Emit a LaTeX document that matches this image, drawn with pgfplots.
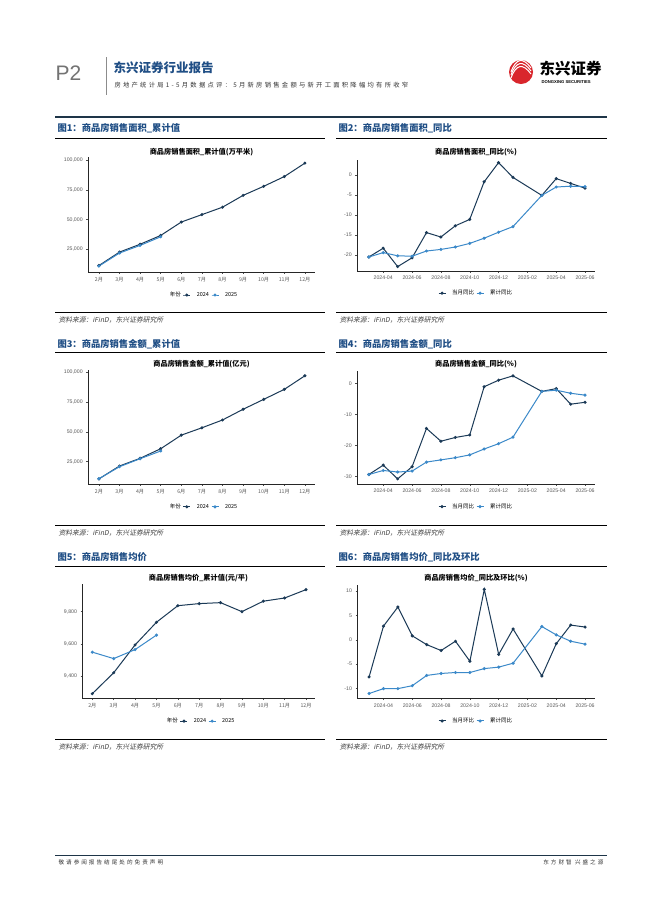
\documentclass[border=0pt]{standalone}
\usepackage{fontspec}
\setmainfont{Noto Sans CJK SC}
\newfontfamily\lat{Liberation Sans}
\newfontfamily\cjkit{Noto Sans CJK SC}[FakeSlant=0.2]
\newfontfamily\cjksp{Noto Sans CJK SC}[LetterSpace=36]
\usepackage{pgfplots}
\pgfplotsset{compat=1.18}

\definecolor{navy}{HTML}{1B3A57}
\definecolor{sky}{HTML}{3B89C9}
\definecolor{ttl}{HTML}{1F4E85}
\definecolor{rule}{HTML}{1E3548}
\definecolor{tickc}{HTML}{5A5A5A}
\definecolor{logored}{HTML}{D9262C}

\pgfplotsset{
  panel/.style={
    scale only axis, anchor=south west, clip=false,
    axis lines=left, axis line style={-, line width=0.8pt, black!85},
    tick align=outside, major tick length=1.8pt,
    every tick/.style={line width=0.45pt, black!70},
    ticklabel style={font=\lat\fontsize{5.2}{6}\selectfont, text=tickc},
    scaled y ticks=false, scaled x ticks=false,
    legend style={draw=none, fill=none, at={(0.5,-0.2)}, anchor=center,
      legend columns=-1, font=\fontsize{5.5}{6}\selectfont,
      /tikz/every odd column/.style={column sep=4pt}},
    legend image code/.code={\draw[mark repeat=2, mark phase=2, ##1]
      plot coordinates {(0pt,0pt) (3.5pt,0pt) (7pt,0pt)};},
  },
  months/.style={xmin=1.47, xmax=12.49, xtick={2,...,12},
    xticklabels={2月,3月,4月,5月,6月,7月,8月,9月,10月,11月,12月},
    xticklabel style={font=\fontsize{5.2}{6}\selectfont}},
  dates/.style={xmin=2.18, xmax=18.69, xtick={4,6,...,18},
    xticklabels={2024-04,2024-06,2024-08,2024-10,2024-12,2025-02,2025-04,2025-06}},
  big/.style={ytick={25000,50000,75000,100000},
    yticklabels={{25,000},{50,000},{75,000},{100,000}}},
  s1/.style={navy, line width=1pt, mark=*, mark size=1pt},
  s2/.style={sky, line width=1pt, mark=*, mark size=1pt},
}

\begin{document}
\begin{tikzpicture}
\useasboundingbox (0pt,0pt) rectangle (662pt,-898pt);
\fill[white] (0pt,0pt) rectangle (662pt,-898pt);

% header
\node[anchor=west, font=\lat\fontsize{21}{22}\selectfont, text=black!55] at (52pt,-73pt) {P2};
\draw[black!45, line width=0.5pt] (106pt,-57pt) -- (106pt,-95pt);
\node[anchor=west, font=\bfseries\fontsize{12.5}{13}\selectfont, text=ttl] at (110pt,-68pt) {东兴证券行业报告};
\node[anchor=west, font=\cjksp\fontsize{6.3}{7}\selectfont, text=black!80] at (111pt,-85pt) {房地产统计局1-5月数据点评：5月新房销售金额与新开工面积降幅均有所收窄};
\fill[logored] (521pt,-72pt) circle (12pt);
\foreach \d in {0,3,6} {
  \draw[white, line width=1pt] (511pt,-78pt+\d pt) .. controls (516pt,-64pt+\d pt) and (523pt,-63pt+\d pt) .. (531pt,-74pt+\d pt);
}
\node[anchor=west, font=\bfseries\fontsize{15.5}{16}\selectfont] at (536pt,-69pt) {东兴证券};
\node[anchor=west, font=\lat\bfseries\fontsize{4.2}{5}\selectfont] at (538pt,-82.5pt) {DONGXING SECURITIES};
\draw[rule, line width=2pt] (55pt,-117pt) -- (607pt,-117pt);

% section titles and rules
\foreach \y/\a/\b in {128/图1：商品房销售面积\_累计值/图2：商品房销售面积\_同比,
                      344/图3：商品房销售金额\_累计值/图4：商品房销售金额\_同比,
                      557/图5：商品房销售均价/图6：商品房销售均价\_同比及环比} {
  \node[anchor=west, font=\bfseries\fontsize{9.3}{10}\selectfont, text=ttl] at (54pt,-\y pt) {\a};
  \node[anchor=west, font=\bfseries\fontsize{9.3}{10}\selectfont, text=ttl] at (335pt,-\y pt) {\b};
}
\foreach \y in {138,352,566} {
  \draw[black, line width=0.9pt] (55pt,-\y pt) -- (325pt,-\y pt);
  \draw[black, line width=0.9pt] (336pt,-\y pt) -- (607pt,-\y pt);
}
\foreach \y/\t in {312/320,525/533,739/747} {
  \draw[black, line width=0.9pt] (55pt,-\y pt) -- (325pt,-\y pt);
  \draw[black, line width=0.9pt] (336pt,-\y pt) -- (607pt,-\y pt);
  \node[anchor=west, font=\cjkit\fontsize{6.8}{7}\selectfont, text=black!75] at (55pt,-\t pt) {资料来源：iFinD，东兴证券研究所};
  \node[anchor=west, font=\cjkit\fontsize{6.8}{7}\selectfont, text=black!75] at (336pt,-\t pt) {资料来源：iFinD，东兴证券研究所};
}

% chart titles
\node[font=\bfseries\fontsize{7.2}{8}\selectfont] at (201.5pt,-152pt) {商品房销售面积\_累计值(万平米)};
\node[font=\bfseries\fontsize{7.2}{8}\selectfont] at (476pt,-152pt) {商品房销售面积\_同比(\%)};
\node[font=\bfseries\fontsize{7.2}{8}\selectfont] at (201.5pt,-364pt) {商品房销售金额\_累计值(亿元)};
\node[font=\bfseries\fontsize{7.2}{8}\selectfont] at (476pt,-364pt) {商品房销售金额\_同比(\%)};
\node[font=\bfseries\fontsize{7.2}{8}\selectfont] at (198.5pt,-578pt) {商品房销售均价\_累计值(元/平)};
\node[font=\bfseries\fontsize{7.2}{8}\selectfont] at (476pt,-578pt) {商品房销售均价\_同比及环比(\%)};

% chart 1
\begin{axis}[panel, months, big, at={(88pt,-272pt)}, width=227pt, height=115pt,
  ymin=5936, ymax=102520]
\addlegendimage{empty legend}\addlegendentry{年份}
\addplot[s1] coordinates {(2,11369)(3,22668)(4,29252)(5,36642)(6,47916)(7,54139)(8,60369)(9,70284)(10,77930)(11,86080)(12,97385)};
\addlegendentry{2024}
\addplot[s2] coordinates {(2,10881)(3,21869)(4,28262)(5,35515)};
\addlegendentry{2025}
\end{axis}

% chart 2
\begin{axis}[panel, dates, at={(357pt,-271pt)}, width=238pt, height=111pt,
  ymin=-24, ymax=3.75, ytick={-20,-15,-10,-5,0}, yticklabels={-20,-15,-10,-5,0}]
\addplot[s1] coordinates {(3,-20.5)(4,-18.3)(5,-22.9)(6,-20.7)(7,-14.4)(8,-15.5)(9,-12.7)(10,-11.1)(11,-1.7)(12,3.1)(13,-0.6)(15,-5.1)(16,-0.9)(17,-2.1)(18,-3.3)};
\addlegendentry{当月同比}
\addplot[s2] coordinates {(3,-20.5)(4,-19.4)(5,-20.2)(6,-20.3)(7,-19.0)(8,-18.6)(9,-18.0)(10,-17.1)(11,-15.8)(12,-14.3)(13,-12.9)(15,-5.1)(16,-3.0)(17,-2.8)(18,-2.9)};
\addlegendentry{累计同比}
\end{axis}

% chart 3
\begin{axis}[panel, months, big, at={(88pt,-484pt)}, width=227pt, height=114pt,
  ymin=6292, ymax=101930]
\addlegendimage{empty legend}\addlegendentry{年份}
\addplot[s1] coordinates {(2,10566)(3,21400)(4,27850)(5,35900)(6,47300)(7,53450)(8,60000)(9,69000)(10,77300)(11,85700)(12,97100)};
\addlegendentry{2024}
\addplot[s2] coordinates {(2,10737)(3,20798)(4,27511)(5,34000)};
\addlegendentry{2025}
\end{axis}

% chart 4
\begin{axis}[panel, dates, at={(357pt,-484pt)}, width=238pt, height=113.3pt,
  ymin=-32.35, ymax=4.05, ytick={-30,-20,-10,0}, yticklabels={-30,-20,-10,0}]
\addplot[s1] coordinates {(3,-29.3)(4,-26.3)(5,-30.7)(6,-26.8)(7,-14.5)(8,-18.6)(9,-17.4)(10,-16.6)(11,-1.1)(12,1.0)(13,2.4)(15,-2.6)(16,-1.7)(17,-6.7)(18,-6.1)};
\addlegendentry{当月同比}
\addplot[s2] coordinates {(3,-29.3)(4,-28.0)(5,-28.5)(6,-28.2)(7,-25.3)(8,-24.6)(9,-23.9)(10,-23.0)(11,-21.1)(12,-19.4)(13,-17.3)(15,-2.6)(16,-2.2)(17,-3.2)(18,-3.8)};
\addlegendentry{累计同比}
\end{axis}

% chart 5
\begin{axis}[panel, months, at={(82.3pt,-698.3pt)}, width=232.7pt, height=114pt,
  xmin=1.53, xmax=12.42, ymin=9261, ymax=9970,
  ytick={9400,9600,9800}, yticklabels={{9,400},{9,600},{9,800}}]
\addlegendimage{empty legend}\addlegendentry{年份}
\addplot[s1] coordinates {(2,9290)(3,9420)(4,9593)(5,9734)(6,9837)(7,9850)(8,9856)(9,9800)(10,9865)(11,9885)(12,9937)};
\addlegendentry{2024}
\addplot[s2] coordinates {(2,9548)(3,9508)(4,9564)(5,9654)};
\addlegendentry{2025}
\end{axis}

% chart 6
\begin{axis}[panel, dates, at={(357.3pt,-698.3pt)}, width=237.7pt, height=113.3pt,
  ymin=-11.98, ymax=11.2, ytick={-10,-5,0,5,10}, yticklabels={-10,-5,0,5,10}]
\addplot[s1] coordinates {(3,-7.6)(4,2.8)(5,6.7)(6,0.8)(7,-1.0)(8,-2.2)(9,-0.3)(10,-4.4)(11,10.3)(12,-3.0)(13,2.2)(15,-7.4)(16,-0.8)(17,3.0)(18,2.6)};
\addlegendentry{当月环比}
\addplot[s2] coordinates {(3,-11.0)(4,-10.0)(5,-10.0)(6,-9.4)(7,-7.3)(8,-6.9)(9,-6.7)(10,-6.7)(11,-5.9)(12,-5.6)(13,-4.8)(15,2.7)(16,1.0)(17,-0.3)(18,-0.9)};
\addlegendentry{累计同比}
\end{axis}

% footer
\draw[rule, line width=0.9pt] (55pt,-855pt) -- (607pt,-855pt);
\node[anchor=west, font=\cjksp\fontsize{5.6}{6}\selectfont, text=black!80] at (55pt,-862pt) {敬请参阅报告结尾处的免责声明};
\node[anchor=east, font=\cjksp\fontsize{5.6}{6}\selectfont, text=black!80] at (607pt,-862pt) {东方财智\ 兴盛之源};
\end{tikzpicture}
\end{document}
